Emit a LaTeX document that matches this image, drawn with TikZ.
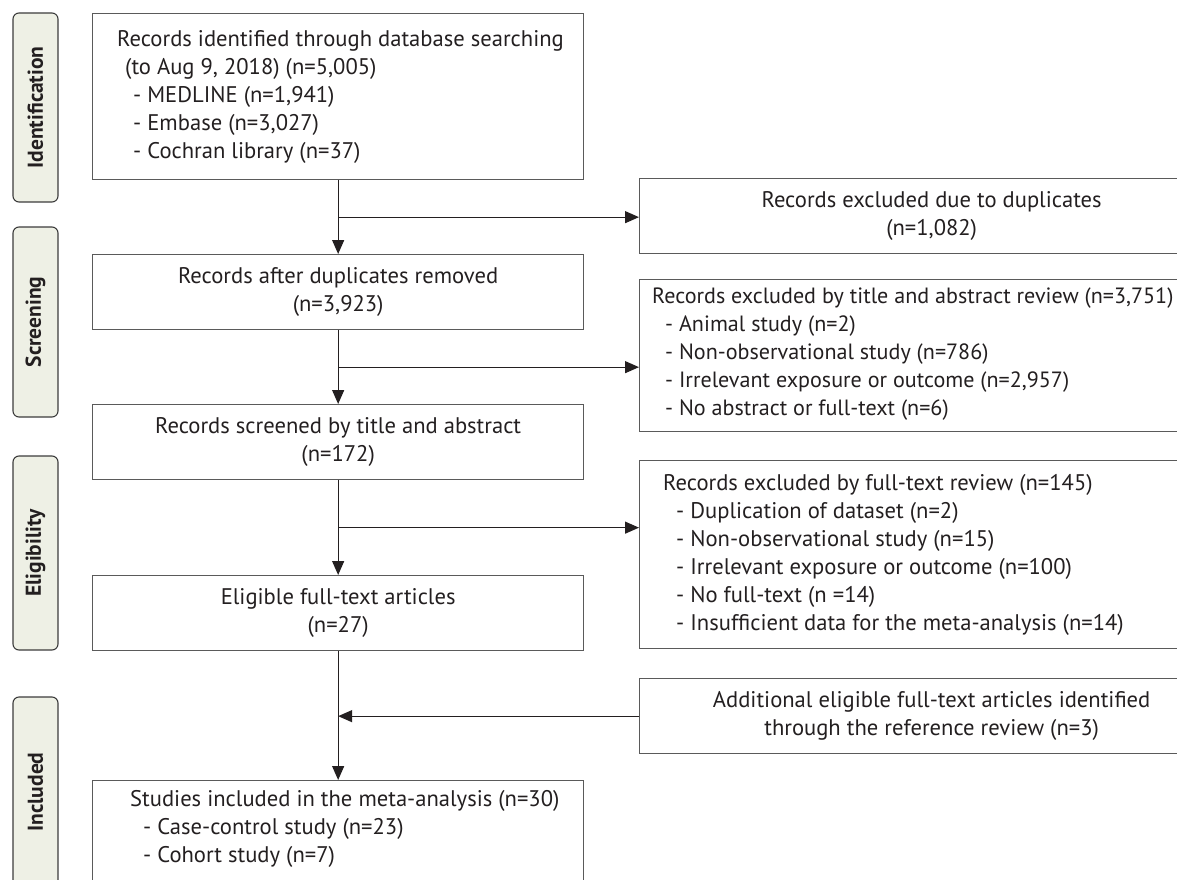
\documentclass[tikz,border=0pt]{standalone}
\usepackage{fontspec}
\setmainfont{PT Sans}
\usetikzlibrary{arrows.meta,calc}
\definecolor{ink}{HTML}{231F20}
\definecolor{boxc}{HTML}{5A5A5A}
\definecolor{lblfill}{HTML}{EEF0E5}
\definecolor{lbldraw}{HTML}{3C3C3C}
\tikzset{
  box/.style={draw=boxc, line width=1.3pt, inner sep=0pt, anchor=north west},
  lbl/.style={draw=lbldraw, fill=lblfill, line width=1.1pt, rounded corners=6pt, rotate=90,
    minimum height=45pt, inner sep=0pt, font=\fontsize{21.5}{24}\selectfont\bfseries, text=ink},
  txt/.style={inner sep=0pt, text=ink, font=\fontsize{22.6}{28}\selectfont},
  ctxt/.style={txt, align=center},
  ltxt/.style={txt, align=left, anchor=west},
  arr/.style={draw=ink, line width=1.2pt, -{Triangle[length=14pt,width=12pt]}},
  ln/.style={draw=ink, line width=1.2pt}
}
\begin{document}
\begin{tikzpicture}[x=1pt,y=-1pt]
\useasboundingbox (0,0) rectangle (1177,880);
\clip (0,0) rectangle (1177,880);
% phase labels
\node[lbl, minimum width=189pt] (pI) at (35.5,107.5) {Identification};
\node[lbl, minimum width=190pt] (pS) at (35.5,322) {Screening};
\node[lbl, minimum width=194pt] (pE) at (35.5,553) {Eligibility};
\node[lbl, minimum width=190pt] (pN) at (35.5,792) {Included};
% left boxes
\node[box, minimum width=491pt, minimum height=166pt] (b1) at (92,13) {};
\node[ltxt] (t1) at ($(b1.west)+(25,0)$) {Records identified through database searching\\
\hspace*{8pt}(to Aug 9, 2018) (n=5,005)\\
\hspace*{16pt}- MEDLINE (n=1,941)\\
\hspace*{16pt}- Embase (n=3,027)\\
\hspace*{16pt}- Cochran library (n=37)};
\node[box, minimum width=491pt, minimum height=75pt] (b2) at (92,254) {};
\node[ctxt] (t2) at (b2.center) {Records after duplicates removed\\(n=3,923)};
\node[box, minimum width=491pt, minimum height=75pt] (b3) at (92,404) {};
\node[ctxt] (t3) at (b3.center) {Records screened by title and abstract\\(n=172)};
\node[box, minimum width=491pt, minimum height=75pt] (b4) at (92,575) {};
\node[ctxt] (t4) at (b4.center) {Eligible full-text articles\\(n=27)};
\node[box, minimum width=491pt, minimum height=120pt] (b5) at (92,780) {};
\node[txt, align=left, anchor=west] (t5) at (130,829) {Studies included in the meta-analysis (n=30)\\
\hspace*{13pt}- Case-control study (n=23)\\
\hspace*{13pt}- Cohort study (n=7)};
% right boxes
\node[box, minimum width=584pt, minimum height=75pt] (dup) at (639,178) {};
\node[ctxt] (tdup) at (dup.center) {Records excluded due to duplicates\\(n=1,082)};
\node[box, minimum width=584pt, minimum height=152pt] (ta) at (639,279) {};
\node[ltxt, font=\fontsize{22.1}{28}\selectfont] (tta) at ($(ta.west)+(13,-2)$) {Records excluded by title and abstract review (n=3,751)\\
\hspace*{13pt}- Animal study (n=2)\\
\hspace*{13pt}- Non-observational study (n=786)\\
\hspace*{13pt}- Irrelevant exposure or outcome (n=2,957)\\
\hspace*{13pt}- No abstract or full-text (n=6)};
\node[box, minimum width=584pt, minimum height=188pt] (ft) at (639,460) {};
\node[ltxt] (tft) at ($(ft.west)+(24,0)$) {Records excluded by full-text review (n=145)\\
\hspace*{13pt}- Duplication of dataset (n=2)\\
\hspace*{13pt}- Non-observational study (n=15)\\
\hspace*{13pt}- Irrelevant exposure or outcome (n=100)\\
\hspace*{13pt}- No full-text (n =14)\\
\hspace*{13pt}- Insufficient data for the meta-analysis (n=14)};
\node[box, minimum width=584pt, minimum height=75pt] (add) at (639,678) {};
\node[ctxt] (tadd) at (add.center) {Additional eligible full-text articles identified\\through the reference review (n=3)};
% connectors
\coordinate (m1) at ($(b1.south)!0.5!(b2.north)$);
\coordinate (m2) at ($(b2.south)!0.5!(b3.north)$);
\coordinate (m3) at ($(b3.south)!0.5!(b4.north)$);
\draw[arr] (b1.south) -- (b2.north);
\draw[arr] (b2.south) -- (b3.north);
\draw[arr] (b3.south) -- (b4.north);
\draw[arr] (b4.south) -- (b5.north);
\draw[arr] (m1) -- (m1 -| dup.west);
\draw[arr] (m2) -- (m2 -| ta.west);
\draw[arr] (m3) -- (m3 -| ft.west);
\draw[arr] (add.west) -- (add.west -| b4.south);
\end{tikzpicture}
\end{document}
